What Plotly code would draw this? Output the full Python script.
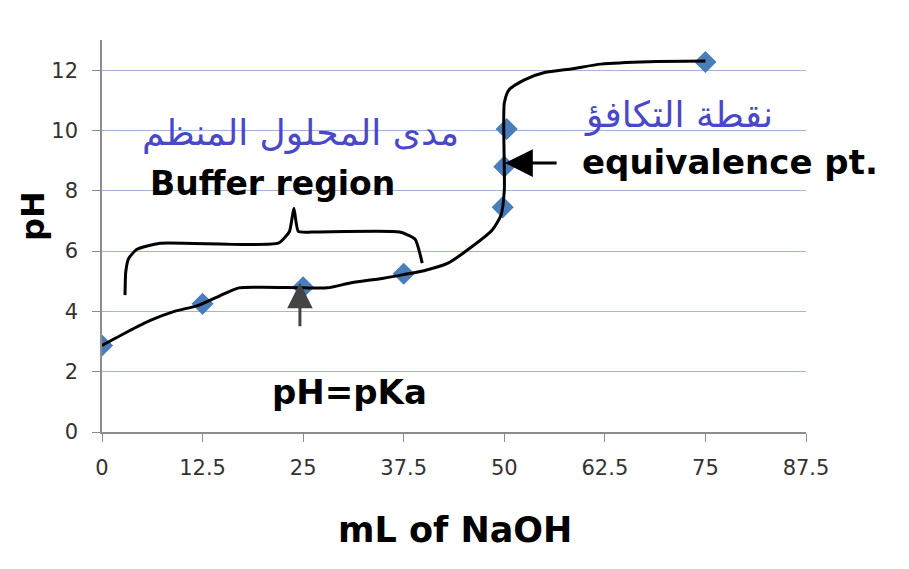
import plotly.graph_objects as go

# Data points (titration of weak acid with NaOH)
ml_naoh = [0, 12.5, 25, 37.5, 49.8, 50.0, 50.3, 75]
ph_vals = [2.87, 4.25, 4.8, 5.25, 7.45, 8.8, 10.05, 12.27]

# Hand-drawn titration curve through the points
curve_x = [0, 3, 6, 9, 12, 14.5, 17, 20, 25, 28, 31, 35, 37.5, 40, 43, 46, 48.5, 49.6, 50.0, 50.0, 50.6, 52.5, 55, 58.5, 62, 68, 75]
curve_y = [2.87, 3.3, 3.7, 4.0, 4.2, 4.5, 4.78, 4.8, 4.78, 4.78, 4.95, 5.1, 5.22, 5.35, 5.6, 6.15, 6.7, 7.2, 8.0, 10.9, 11.35, 11.68, 11.92, 12.05, 12.2, 12.28, 12.3]

# Brace over buffer region
brace_x = [2.86, 2.95, 3.3, 4.3, 7.2, 21.9, 23.3, 23.85, 24.4, 26.1, 37.0, 38.9, 39.8]
brace_y = [4.54, 5.3, 5.75, 6.05, 6.26, 6.26, 6.65, 7.42, 6.65, 6.63, 6.63, 6.4, 5.6]

x_ticks = [0, 12.5, 25, 37.5, 50, 62.5, 75, 87.5]
x_tick_labels = ["0", "12.5", "25", "37.5", "50", "62.5", "75", "87.5"]
y_ticks = [0, 2, 4, 6, 8, 10, 12]

fig = go.Figure()
fig.add_trace(go.Scatter(x=ml_naoh, y=ph_vals, mode="markers",
                         marker=dict(symbol="diamond", size=17, color="#4a7ebb"),
                         showlegend=False))
fig.add_trace(go.Scatter(x=curve_x, y=curve_y, mode="lines",
                         line=dict(color="black", width=3, shape="spline", smoothing=0.6),
                         showlegend=False))
fig.add_trace(go.Scatter(x=brace_x, y=brace_y, mode="lines",
                         line=dict(color="black", width=3, shape="spline", smoothing=0.5),
                         showlegend=False))

bold = "DejaVu Sans"
annots = [
    dict(x=21.2, y=8.25, text="<b>Buffer region</b>", font=dict(family=bold, size=33, color="black")),
    dict(x=78.1, y=8.95, text="<b>equivalence pt.</b>", font=dict(family=bold, size=34, color="black")),
    dict(x=30.8, y=1.33, text="<b>pH=pKa</b>", font=dict(family=bold, size=34, color="black")),
    dict(x=24.7, y=9.9, text="مدى المحلول المنظم", font=dict(family="DejaVu Sans", size=36, color="#4848c8")),
    dict(x=71.7, y=10.5, text="نقطة التكافؤ", font=dict(family="DejaVu Sans", size=36, color="#4848c8")),
]
layout_annots = []
for a in annots:
    a.update(xref="x", yref="y", showarrow=False, xanchor="center", yanchor="middle")
    layout_annots.append(a)

# arrows
layout_annots.append(dict(x=24.6, y=4.95, xref="x", yref="y", text="", showarrow=True,
                          ax=0, ay=45, arrowhead=2, arrowsize=1.7, arrowwidth=3, arrowcolor="#444444"))
layout_annots.append(dict(x=50.1, y=8.92, xref="x", yref="y", text="", showarrow=True,
                          ax=53, ay=0, arrowhead=2, arrowsize=1.85, arrowwidth=3, arrowcolor="black"))
# axis titles (pixel positions in the page)
layout_annots.append(dict(x=33, y=216, xref="paper", yref="paper", text="<b>pH</b>", textangle=-90,
                          showarrow=False, font=dict(family=bold, size=32, color="black")))
layout_annots.append(dict(x=455, y=530, xref="paper", yref="paper", text="<b>mL of NaOH</b>",
                          showarrow=False, font=dict(family=bold, size=35, color="black")))

# page offset (body margin) of 8px
OFF = 8
W, H = 909, 569
L, R, T, B = 102 - OFF, 111, 40 - OFF, 145
pw, ph_ = W - L - R, H - T - B
for a in layout_annots[-2:]:
    a["x"] = (a["x"] - OFF - L) / pw
    a["y"] = (H - B - (a["y"] - OFF)) / ph_
    a["xanchor"] = "center"
    a["yanchor"] = "middle"

fig.update_layout(
    width=W, height=H,
    margin=dict(l=L, r=R, t=T, b=B),
    paper_bgcolor="white", plot_bgcolor="white",
    annotations=layout_annots,
    xaxis=dict(range=[0, 87.5], tickvals=x_ticks, ticktext=x_tick_labels,
               showgrid=False, zeroline=False, showline=True, linecolor="#8c8c8c", linewidth=1.5,
               ticks="outside", ticklen=8, tickcolor="#8c8c8c", ticklabelstandoff=8,
               tickfont=dict(family="DejaVu Sans", size=21, color="#333333")),
    yaxis=dict(range=[0, 13], tickvals=y_ticks,
               showgrid=True, gridcolor="#9db7d8", gridwidth=1.2,
               zeroline=False, showline=True, linecolor="#8c8c8c", linewidth=1.5,
               ticks="outside", ticklen=8, tickcolor="#8c8c8c", ticklabelstandoff=10,
               tickfont=dict(family="DejaVu Sans", size=21, color="#333333")),
)

fig.write_html("out.html")
